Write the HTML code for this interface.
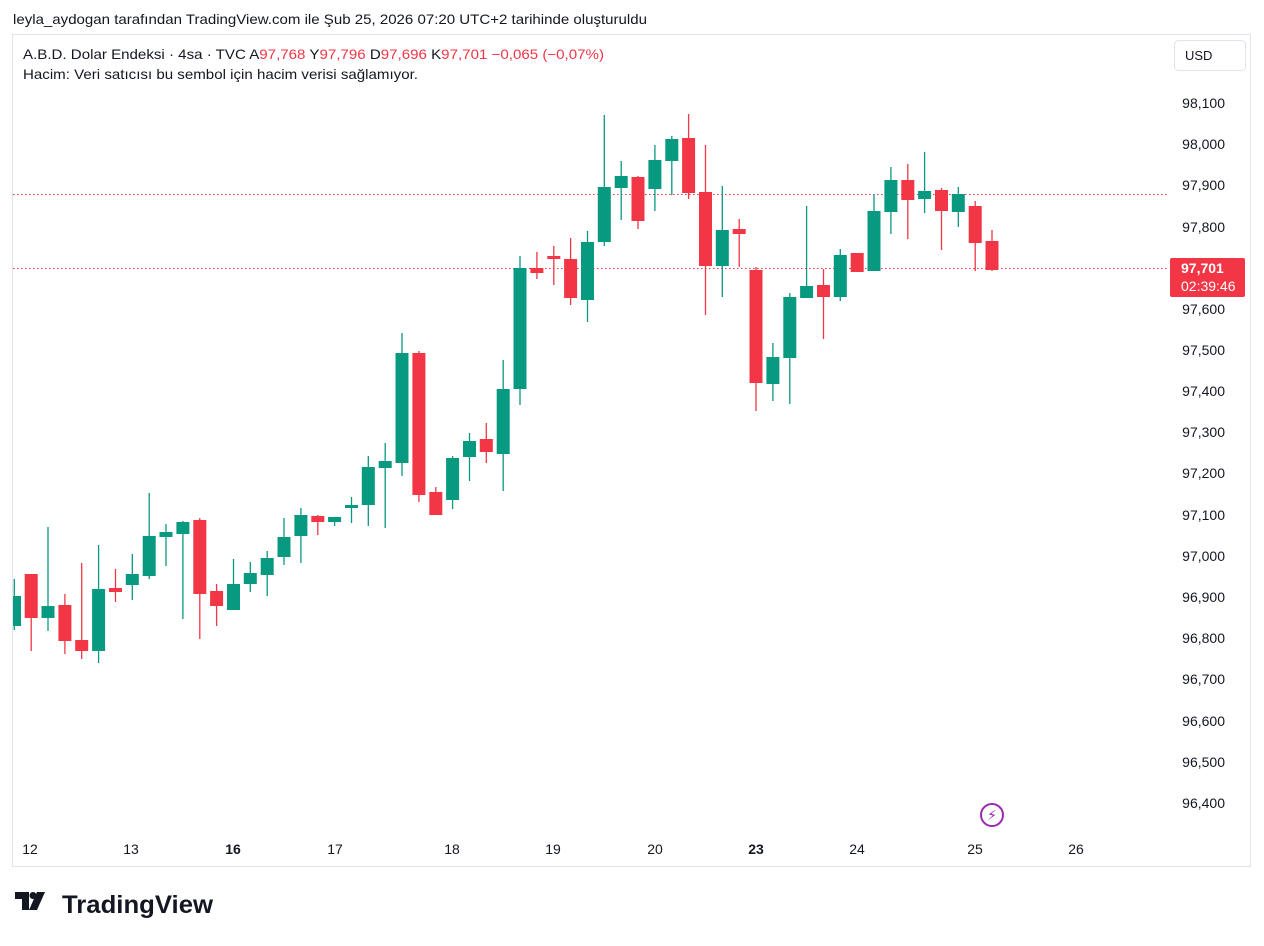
<!DOCTYPE html>
<html><head><meta charset="utf-8"><style>
body{margin:0;background:#fff;width:1264px;height:941px;overflow:hidden;font-family:"Liberation Sans","DejaVu Sans",sans-serif;}
svg text{font-family:"Liberation Sans","DejaVu Sans",sans-serif;}
</style></head><body>
<svg width="1264" height="941" xmlns="http://www.w3.org/2000/svg">
<text x="13" y="24" font-size="14" fill="#131722" textLength="634" lengthAdjust="spacingAndGlyphs">leyla_aydogan tarafından TradingView.com ile Şub 25, 2026 07:20 UTC+2 tarihinde oluşturuldu</text>
<rect x="12.5" y="34.5" width="1238" height="832" fill="none" stroke="#e0e3eb"/>
<text x="23" y="59" font-size="14" fill="#131722" textLength="581" lengthAdjust="spacingAndGlyphs">A.B.D. Dolar Endeksi · 4sa · TVC <tspan fill="#131722">A</tspan><tspan fill="#f23645">97,768</tspan> <tspan fill="#131722">Y</tspan><tspan fill="#f23645">97,796</tspan> <tspan fill="#131722">D</tspan><tspan fill="#f23645">97,696</tspan> <tspan fill="#131722">K</tspan><tspan fill="#f23645">97,701 −0,065 (−0,07%)</tspan></text>
<text x="23" y="79" font-size="14" fill="#131722" textLength="395" lengthAdjust="spacingAndGlyphs">Hacim: Veri satıcısı bu sembol için hacim verisi sağlamıyor.</text>
<rect x="1174.5" y="40.5" width="71" height="30" rx="4" fill="#fff" stroke="#e0e3eb"/>
<text x="1185" y="60" font-size="13" fill="#131722">USD</text>
<g font-size="14" fill="#131722" text-anchor="end">
<text x="1225" y="108">98,100</text><text x="1225" y="149">98,000</text><text x="1225" y="190">97,900</text><text x="1225" y="232">97,800</text>
<text x="1225" y="314">97,600</text><text x="1225" y="355">97,500</text><text x="1225" y="396">97,400</text><text x="1225" y="437">97,300</text>
<text x="1225" y="478">97,200</text><text x="1225" y="520">97,100</text><text x="1225" y="561">97,000</text><text x="1225" y="602">96,900</text>
<text x="1225" y="643">96,800</text><text x="1225" y="684">96,700</text><text x="1225" y="726">96,600</text><text x="1225" y="767">96,500</text><text x="1225" y="808">96,400</text>
</g>
<line x1="13" y1="194.5" x2="1168" y2="194.5" stroke="#f23645" stroke-dasharray="1.5,2.5"/>
<line x1="13" y1="268.5" x2="1168" y2="268.5" stroke="#f23645" stroke-dasharray="1.5,2.5"/>
<rect x="1170" y="258" width="75" height="39" rx="2" fill="#f23645"/>
<text x="1181" y="273" font-size="14" font-weight="bold" fill="#fff">97,701</text>
<text x="1181" y="291" font-size="14" fill="#fff">02:39:46</text>
<g font-size="14" fill="#131722" text-anchor="middle">
<text x="30" y="854">12</text><text x="131" y="854">13</text><text x="233" y="854" font-weight="bold">16</text><text x="335" y="854">17</text>
<text x="452" y="854">18</text><text x="553" y="854">19</text><text x="655" y="854">20</text><text x="756" y="854" font-weight="bold">23</text>
<text x="857" y="854">24</text><text x="975" y="854">25</text><text x="1076" y="854">26</text>
</g>
<circle cx="992" cy="815" r="11" fill="none" stroke="#9c27b0" stroke-width="2"/>
<text x="992" y="820" font-size="14" fill="#9c27b0" text-anchor="middle">⚡</text>
<g stroke-width="1.3">
<line x1="14.3" y1="579" x2="14.3" y2="630" stroke="#089981"/><rect x="13" y="596" width="8" height="30" fill="#089981"/>
<line x1="31.2" y1="574" x2="31.2" y2="651" stroke="#f23645"/><rect x="24.7" y="574" width="13" height="44" fill="#f23645"/>
<line x1="48" y1="527" x2="48" y2="631" stroke="#089981"/><rect x="41.5" y="606" width="13" height="12" fill="#089981"/>
<line x1="64.9" y1="594" x2="64.9" y2="654" stroke="#f23645"/><rect x="58.4" y="605" width="13" height="36" fill="#f23645"/>
<line x1="81.7" y1="563" x2="81.7" y2="659" stroke="#f23645"/><rect x="75.2" y="640" width="13" height="11" fill="#f23645"/>
<line x1="98.6" y1="545" x2="98.6" y2="663" stroke="#089981"/><rect x="92.1" y="589" width="13" height="62" fill="#089981"/>
<line x1="115.5" y1="569" x2="115.5" y2="602" stroke="#f23645"/><rect x="109" y="588" width="13" height="4" fill="#f23645"/>
<line x1="132.3" y1="554" x2="132.3" y2="600" stroke="#089981"/><rect x="125.8" y="574" width="13" height="11" fill="#089981"/>
<line x1="149.2" y1="493" x2="149.2" y2="579" stroke="#089981"/><rect x="142.7" y="536" width="13" height="40" fill="#089981"/>
<line x1="166" y1="524" x2="166" y2="566" stroke="#089981"/><rect x="159.5" y="532" width="13" height="5" fill="#089981"/>
<line x1="182.9" y1="521" x2="182.9" y2="619" stroke="#089981"/><rect x="176.4" y="522" width="13" height="12" fill="#089981"/>
<line x1="199.8" y1="518" x2="199.8" y2="639" stroke="#f23645"/><rect x="193.3" y="520" width="13" height="74" fill="#f23645"/>
<line x1="216.6" y1="584" x2="216.6" y2="626" stroke="#f23645"/><rect x="210.1" y="591" width="13" height="15" fill="#f23645"/>
<line x1="233.5" y1="559" x2="233.5" y2="610" stroke="#089981"/><rect x="227" y="584" width="13" height="26" fill="#089981"/>
<line x1="250.3" y1="562" x2="250.3" y2="592" stroke="#089981"/><rect x="243.8" y="573" width="13" height="11" fill="#089981"/>
<line x1="267.2" y1="551" x2="267.2" y2="596" stroke="#089981"/><rect x="260.7" y="558" width="13" height="17" fill="#089981"/>
<line x1="284" y1="518" x2="284" y2="565" stroke="#089981"/><rect x="277.5" y="537" width="13" height="20" fill="#089981"/>
<line x1="300.9" y1="508" x2="300.9" y2="563" stroke="#089981"/><rect x="294.4" y="515" width="13" height="21" fill="#089981"/>
<line x1="317.8" y1="515" x2="317.8" y2="535" stroke="#f23645"/><rect x="311.3" y="516" width="13" height="6" fill="#f23645"/>
<line x1="334.6" y1="517" x2="334.6" y2="526" stroke="#089981"/><rect x="328.1" y="517" width="13" height="5" fill="#089981"/>
<line x1="351.5" y1="497" x2="351.5" y2="523" stroke="#089981"/><rect x="345" y="505" width="13" height="3" fill="#089981"/>
<line x1="368.3" y1="456" x2="368.3" y2="526" stroke="#089981"/><rect x="361.8" y="467" width="13" height="38" fill="#089981"/>
<line x1="385.2" y1="443" x2="385.2" y2="528" stroke="#089981"/><rect x="378.7" y="461" width="13" height="7" fill="#089981"/>
<line x1="402" y1="333" x2="402" y2="476" stroke="#089981"/><rect x="395.5" y="353" width="13" height="110" fill="#089981"/>
<line x1="418.9" y1="351" x2="418.9" y2="502" stroke="#f23645"/><rect x="412.4" y="353" width="13" height="142" fill="#f23645"/>
<line x1="435.8" y1="487" x2="435.8" y2="515" stroke="#f23645"/><rect x="429.3" y="492" width="13" height="23" fill="#f23645"/>
<line x1="452.6" y1="456" x2="452.6" y2="509" stroke="#089981"/><rect x="446.1" y="458" width="13" height="42" fill="#089981"/>
<line x1="469.5" y1="433" x2="469.5" y2="481" stroke="#089981"/><rect x="463" y="441" width="13" height="16" fill="#089981"/>
<line x1="486.3" y1="423" x2="486.3" y2="463" stroke="#f23645"/><rect x="479.8" y="439" width="13" height="13" fill="#f23645"/>
<line x1="503.2" y1="360" x2="503.2" y2="491" stroke="#089981"/><rect x="496.7" y="389" width="13" height="65" fill="#089981"/>
<line x1="520" y1="256" x2="520" y2="405" stroke="#089981"/><rect x="513.5" y="268" width="13" height="121" fill="#089981"/>
<line x1="536.9" y1="252" x2="536.9" y2="279" stroke="#f23645"/><rect x="530.4" y="268" width="13" height="5" fill="#f23645"/>
<line x1="553.8" y1="246" x2="553.8" y2="285" stroke="#f23645"/><rect x="547.3" y="256" width="13" height="3" fill="#f23645"/>
<line x1="570.6" y1="238" x2="570.6" y2="305" stroke="#f23645"/><rect x="564.1" y="259" width="13" height="39" fill="#f23645"/>
<line x1="587.5" y1="231" x2="587.5" y2="322" stroke="#089981"/><rect x="581" y="242" width="13" height="58" fill="#089981"/>
<line x1="604.3" y1="115" x2="604.3" y2="246" stroke="#089981"/><rect x="597.8" y="187" width="13" height="55" fill="#089981"/>
<line x1="621.2" y1="161" x2="621.2" y2="220" stroke="#089981"/><rect x="614.7" y="176" width="13" height="12" fill="#089981"/>
<line x1="638" y1="176" x2="638" y2="229" stroke="#f23645"/><rect x="631.5" y="177" width="13" height="44" fill="#f23645"/>
<line x1="654.9" y1="145" x2="654.9" y2="211" stroke="#089981"/><rect x="648.4" y="160" width="13" height="29" fill="#089981"/>
<line x1="671.8" y1="136" x2="671.8" y2="195" stroke="#089981"/><rect x="665.3" y="139" width="13" height="22" fill="#089981"/>
<line x1="688.6" y1="114" x2="688.6" y2="199" stroke="#f23645"/><rect x="682.1" y="138" width="13" height="55" fill="#f23645"/>
<line x1="705.5" y1="145" x2="705.5" y2="315" stroke="#f23645"/><rect x="699" y="192" width="13" height="74" fill="#f23645"/>
<line x1="722.3" y1="186" x2="722.3" y2="297" stroke="#089981"/><rect x="715.8" y="230" width="13" height="36" fill="#089981"/>
<line x1="739.2" y1="219" x2="739.2" y2="267" stroke="#f23645"/><rect x="732.7" y="229" width="13" height="5" fill="#f23645"/>
<line x1="756" y1="267" x2="756" y2="411" stroke="#f23645"/><rect x="749.5" y="270" width="13" height="113" fill="#f23645"/>
<line x1="772.9" y1="343" x2="772.9" y2="401" stroke="#089981"/><rect x="766.4" y="357" width="13" height="27" fill="#089981"/>
<line x1="789.8" y1="293" x2="789.8" y2="404" stroke="#089981"/><rect x="783.3" y="297" width="13" height="61" fill="#089981"/>
<line x1="806.6" y1="206" x2="806.6" y2="298" stroke="#089981"/><rect x="800.1" y="286" width="13" height="12" fill="#089981"/>
<line x1="823.5" y1="269" x2="823.5" y2="339" stroke="#f23645"/><rect x="817" y="285" width="13" height="12" fill="#f23645"/>
<line x1="840.3" y1="249" x2="840.3" y2="301" stroke="#089981"/><rect x="833.8" y="255" width="13" height="42" fill="#089981"/>
<rect x="850.7" y="253" width="13" height="19" fill="#f23645"/>
<line x1="874" y1="194" x2="874" y2="271" stroke="#089981"/><rect x="867.5" y="211" width="13" height="60" fill="#089981"/>
<line x1="890.9" y1="167" x2="890.9" y2="234" stroke="#089981"/><rect x="884.4" y="180" width="13" height="32" fill="#089981"/>
<line x1="907.8" y1="164" x2="907.8" y2="239" stroke="#f23645"/><rect x="901.3" y="180" width="13" height="20" fill="#f23645"/>
<line x1="924.6" y1="152" x2="924.6" y2="213" stroke="#089981"/><rect x="918.1" y="191" width="13" height="8" fill="#089981"/>
<line x1="941.5" y1="188" x2="941.5" y2="250" stroke="#f23645"/><rect x="935" y="190" width="13" height="21" fill="#f23645"/>
<line x1="958.3" y1="187" x2="958.3" y2="227" stroke="#089981"/><rect x="951.8" y="194" width="13" height="18" fill="#089981"/>
<line x1="975.2" y1="201" x2="975.2" y2="271" stroke="#f23645"/><rect x="968.7" y="206" width="13" height="37" fill="#f23645"/>
<line x1="992" y1="230" x2="992" y2="271" stroke="#f23645"/><rect x="985.5" y="241" width="13" height="29" fill="#f23645"/>
</g>
<g transform="translate(15,892)" fill="#131722">
<path d="M0 0h14v18h-7v-11h-7z"/>
<circle cx="18" cy="3.5" r="3.5"/>
<path d="M22 0h8l-8 18h-8z"/>
</g>
<text x="62" y="913" font-size="25" font-weight="bold" fill="#131722" textLength="151" lengthAdjust="spacingAndGlyphs">TradingView</text>
</svg>
</body></html>
